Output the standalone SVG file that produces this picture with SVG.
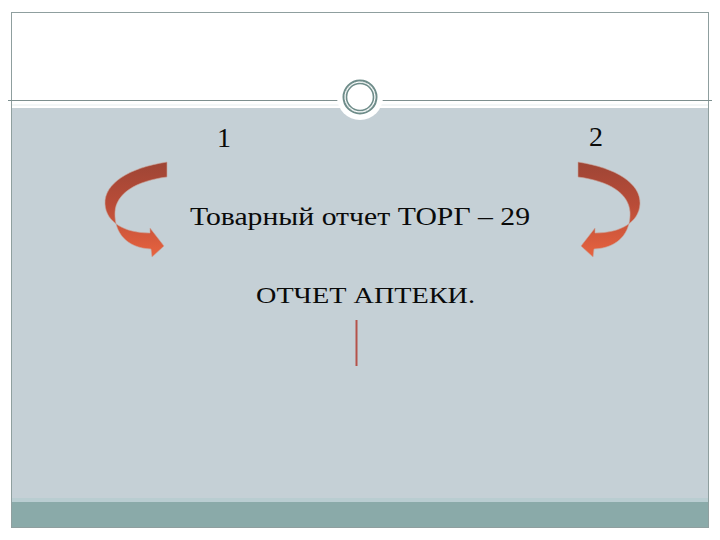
<svg xmlns="http://www.w3.org/2000/svg" width="720" height="540" viewBox="0 0 720 540">
<style>
.t{font-family:"Liberation Serif","DejaVu Serif",serif;fill:#0a0a0a}
</style>
<defs>
<linearGradient id="ag" x1="0" y1="0" x2="0" y2="1">
<stop offset="0" stop-color="#9e4535"/>
<stop offset="0.45" stop-color="#b94c38"/>
<stop offset="1" stop-color="#e8633f"/>
</linearGradient>
<path id="carrow" d="M167,162 C128,168 104,184 105,204 C106,222 124,233 150,233 L150,228 L164,246 L152,257 L151,249 C126,248 114,232 115,212 C116,194 135,181 167,177 Z"/>
</defs>
<rect x="0" y="0" width="720" height="540" fill="#fff"/>
<g id="frame">
<rect x="11.5" y="108" width="697" height="394" fill="#c5d0d6"/>
<rect x="11.5" y="498" width="697" height="4" fill="#b9cdd1"/>
<rect x="11.5" y="502" width="697" height="25.5" fill="#8aaaa9"/>
<rect x="11.5" y="12.5" width="697" height="515" fill="none" stroke="#8f9f9f" stroke-width="1"/>
<line x1="8" y1="100.5" x2="712" y2="100.5" stroke="#7d8f8f" stroke-width="1.2"/>
<line x1="12" y1="105" x2="708" y2="105" stroke="#e6eef0" stroke-width="1"/>
</g>
<g id="ring">
<circle cx="360" cy="97" r="23" fill="#fff"/>
<circle cx="360" cy="97" r="16.5" fill="none" stroke="#6f8d8a" stroke-width="2"/>
<circle cx="360" cy="97" r="13.5" fill="none" stroke="#6f8d8a" stroke-width="1.6"/>
<circle cx="360" cy="97" r="15" fill="none" stroke="#cfdcdb" stroke-width="1" stroke-dasharray="2 2"/>
</g>
<g id="label1"><text class="t" x="217" y="147" font-size="28">1</text></g>
<g id="label2"><text class="t" x="589" y="146" font-size="28">2</text></g>
<g id="torg"><text class="t" x="190" y="225" font-size="26" textLength="340" lengthAdjust="spacingAndGlyphs">Товарный отчет ТОРГ – 29</text></g>
<g id="otchet"><text class="t" x="256" y="303" font-size="24" textLength="219" lengthAdjust="spacingAndGlyphs">ОТЧЕТ АПТЕКИ.</text></g>
<g id="connectors">
<use href="#carrow" fill="url(#ag)" stroke="#c9a49a" stroke-width="0.6"/>
<use href="#carrow" transform="translate(745,0) scale(-1,1)" fill="url(#ag)" stroke="#c9a49a" stroke-width="0.6"/>
<line x1="356.5" y1="320" x2="356.5" y2="366" stroke="#b4524a" stroke-width="2"/>
</g>
</svg>
